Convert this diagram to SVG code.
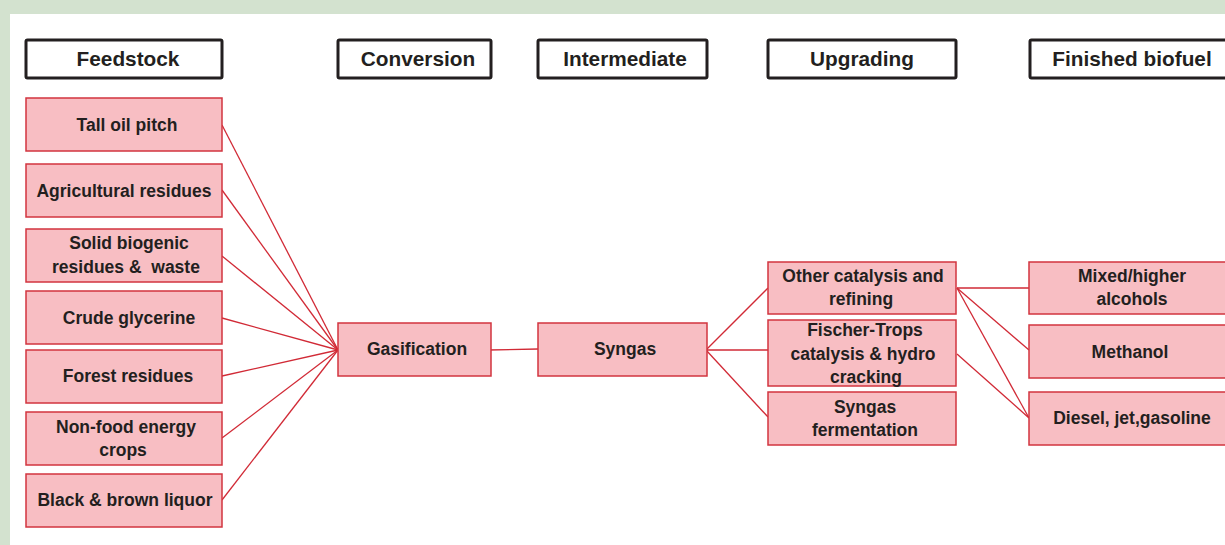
<svg xmlns="http://www.w3.org/2000/svg" width="1225" height="545" viewBox="0 0 1225 545">
<style>
.hdr{fill:#fff;stroke:#231f20;stroke-width:3}
.box{fill:#f8bec3;stroke:#d2353f;stroke-width:1.5}
.ht{font-family:"Liberation Sans",Arial,sans-serif;font-weight:bold;font-size:20.8px;fill:#231f20;text-anchor:middle}
.t{font-family:"Liberation Sans",Arial,sans-serif;font-weight:bold;font-size:17.5px;fill:#231f20;text-anchor:middle}
.c{stroke:#d12a36;stroke-width:1.3;fill:none}
</style>
<rect x="0" y="0" width="1225" height="545" fill="#d3e2cf"/>
<rect x="10" y="14" width="1215" height="531" fill="#fff"/>

<g id="headers">
<g id="h-feedstock"><rect class="hdr" x="26" y="40" width="196" height="38" rx="1.5"/><text class="ht" x="128" y="66">Feedstock</text></g>
<g id="h-conversion"><rect class="hdr" x="338" y="40" width="153" height="38" rx="1.5"/><text class="ht" x="418" y="66">Conversion</text></g>
<g id="h-intermediate"><rect class="hdr" x="538" y="40" width="169" height="38" rx="1.5"/><text class="ht" x="625" y="66">Intermediate</text></g>
<g id="h-upgrading"><rect class="hdr" x="768" y="40" width="188" height="38" rx="1.5"/><text class="ht" x="862" y="66">Upgrading</text></g>
<g id="h-finished"><rect class="hdr" x="1030" y="40" width="200" height="38" rx="1.5"/><text class="ht" x="1132" y="66">Finished biofuel</text></g>
</g>

<g id="connectors">
<line class="c" x1="222" y1="125" x2="338" y2="350"/>
<line class="c" x1="222" y1="190" x2="338" y2="350"/>
<line class="c" x1="222" y1="256" x2="338" y2="350"/>
<line class="c" x1="222" y1="318" x2="338" y2="350"/>
<line class="c" x1="222" y1="376" x2="338" y2="350"/>
<line class="c" x1="222" y1="438" x2="338" y2="350"/>
<line class="c" x1="222" y1="500" x2="338" y2="350"/>
<line class="c" x1="488" y1="350" x2="538" y2="349"/>
<line class="c" x1="706" y1="350" x2="768" y2="288"/>
<line class="c" x1="706" y1="350" x2="768" y2="350"/>
<line class="c" x1="706" y1="350" x2="768" y2="417"/>
<line class="c" x1="957" y1="288" x2="1029" y2="288"/>
<line class="c" x1="957" y1="288" x2="1029" y2="350"/>
<line class="c" x1="957" y1="288" x2="1029" y2="418"/>
<line class="c" x1="957" y1="354" x2="1029" y2="418"/>
</g>

<g id="n-tall-oil"><rect class="box" x="26" y="98" width="196" height="53"/><text class="t" x="127" y="131">Tall oil pitch</text></g>
<g id="n-agri"><rect class="box" x="26" y="164" width="196" height="53"/><text class="t" x="124" y="197">Agricultural residues</text></g>
<g id="n-solid"><rect class="box" x="26" y="229" width="196" height="53"/><text class="t" x="129" y="249">Solid biogenic</text><text class="t" x="126" y="273" xml:space="preserve">residues &amp;  waste</text></g>
<g id="n-crude"><rect class="box" x="26" y="291" width="196" height="53"/><text class="t" x="129" y="324">Crude glycerine</text></g>
<g id="n-forest"><rect class="box" x="26" y="350" width="196" height="53"/><text class="t" x="128" y="382">Forest residues</text></g>
<g id="n-nonfood"><rect class="box" x="26" y="412" width="196" height="53"/><text class="t" x="126" y="433">Non-food energy</text><text class="t" x="123" y="456">crops</text></g>
<g id="n-black"><rect class="box" x="26" y="474" width="196" height="53"/><text class="t" x="125" y="506">Black &amp; brown liquor</text></g>

<g id="n-gasification"><rect class="box" x="338" y="323" width="153" height="53"/><text class="t" x="417" y="355">Gasification</text></g>
<g id="n-syngas"><rect class="box" x="538" y="323" width="169" height="53"/><text class="t" x="625" y="355">Syngas</text></g>

<g id="n-other"><rect class="box" x="768" y="262" width="188" height="52"/><text class="t" x="863" y="282">Other catalysis and</text><text class="t" x="861" y="305">refining</text></g>
<g id="n-fischer"><rect class="box" x="768" y="320" width="188" height="66"/><text class="t" x="865" y="336">Fischer-Trops</text><text class="t" x="863" y="360">catalysis &amp; hydro</text><text class="t" x="866" y="383">cracking</text></g>
<g id="n-ferment"><rect class="box" x="768" y="392" width="188" height="53"/><text class="t" x="865" y="413">Syngas</text><text class="t" x="865" y="436">fermentation</text></g>

<g id="n-mixed"><rect class="box" x="1029" y="262" width="200" height="52"/><text class="t" x="1132" y="282">Mixed/higher</text><text class="t" x="1132" y="305">alcohols</text></g>
<g id="n-methanol"><rect class="box" x="1029" y="325" width="200" height="53"/><text class="t" x="1130" y="358">Methanol</text></g>
<g id="n-diesel"><rect class="box" x="1029" y="392" width="200" height="53"/><text class="t" x="1132" y="424">Diesel, jet,gasoline</text></g>
</svg>
